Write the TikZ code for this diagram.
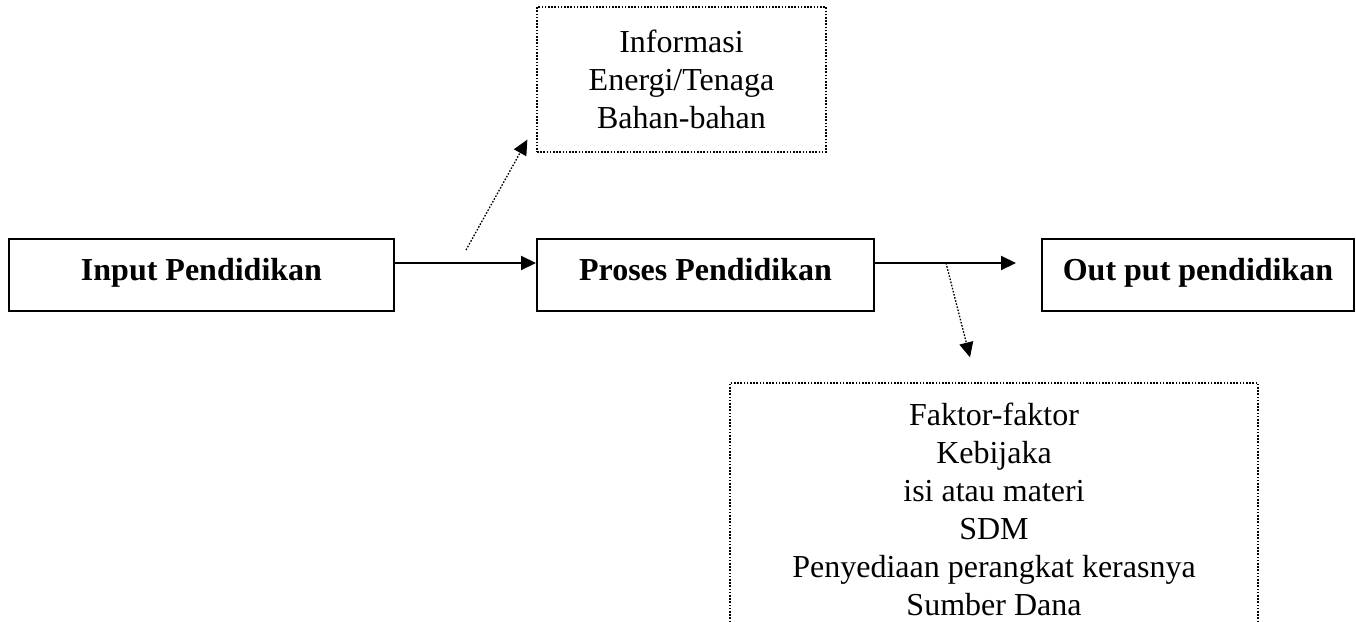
\documentclass[tikz,border=0pt]{standalone}
\usepackage{fontspec}
\setmainfont{Liberation Serif}
\usetikzlibrary{arrows.meta}
\tikzset{
  solidbox/.style={draw, line width=2pt, rectangle, inner sep=0pt, minimum height=72pt,
    text height=24pt, text depth=14pt,
    font=\fontsize{32pt}{38pt}\selectfont\bfseries},
  dotbox/.style={draw, line width=1.3pt, dash pattern=on 1.6pt off 1.6pt, rectangle, inner sep=0pt,
    align=center, font=\fontsize{32pt}{38pt}\selectfont},
  solidarrow/.style={line width=2pt, -{Triangle[length=15pt,width=14pt]}},
  dotarrow/.style={line width=1.3pt, dash pattern=on 1.6pt off 1.6pt, -{Triangle[length=15pt,width=14pt]}}
}
\begin{document}
\begin{tikzpicture}[x=1pt,y=1pt]
\clip (0,0) rectangle (1356,-621);
\node[solidbox, minimum width=385pt] (inp) at (201.5,-275) {Input Pendidikan};
\node[solidbox, minimum width=337pt] (pro) at (705.5,-275) {Proses Pendidikan};
\node[solidbox, minimum width=312pt] (out) at (1198,-275) {Out put pendidikan};
\node[dotbox, minimum width=289pt, minimum height=145pt] (info) at (681.5,-79.5)
  {Informasi\\Energi/Tenaga\\Bahan-bahan};
\node[dotbox, minimum width=528pt, minimum height=252pt] (fak) at (994,-509)
  {Faktor-faktor\\Kebijaka\\isi atau materi\\SDM\\Penyediaan perangkat kerasnya\\Sumber Dana};
\draw[solidarrow] ([yshift=12pt]inp.east) -- ([yshift=12pt]pro.west);
\draw[solidarrow] ([yshift=12pt]pro.east) -- ([xshift=-25pt,yshift=12pt]out.west);
\coordinate (d1) at (466,-250);
\coordinate (d2) at (946,-263);
\draw[dotarrow] (d1) -- ([xshift=-9pt,yshift=13pt]info.south west);
\draw[dotarrow] (d2) -- ([xshift=-24pt,yshift=25pt]fak.north);
\end{tikzpicture}
\end{document}
